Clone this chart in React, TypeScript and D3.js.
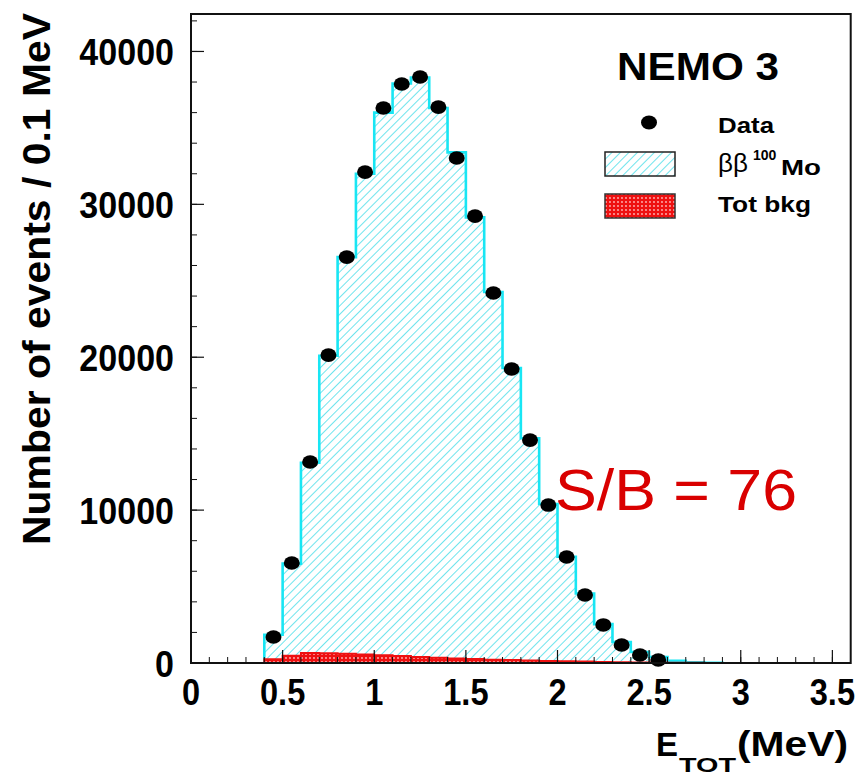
import React from 'react';
import * as d3 from 'd3';

// ---- data ----
const binCenters = [0.45, 0.55, 0.65, 0.75, 0.85, 0.95, 1.05, 1.15, 1.25, 1.35, 1.45, 1.55, 1.65, 1.75, 1.85, 1.95, 2.05, 2.15, 2.25, 2.35, 2.45, 2.55, 2.65, 2.75, 2.85];
const dataCounts = [1700, 6540, 13150, 20140, 26550, 32110, 36300, 37870, 38330, 36360, 33030, 29230, 24200, 19230, 14580, 10330, 6930, 4450, 2490, 1180, 520, 200];
const mcCounts = [1850, 6500, 13100, 20100, 26550, 32000, 36000, 37900, 38300, 36300, 33400, 29150, 24270, 19300, 14700, 10400, 6950, 4550, 2540, 1370, 720, 390, 150, 50, 15];
const bkgCounts = [250, 480, 650, 640, 600, 560, 500, 450, 400, 350, 300, 260, 220, 190, 160, 130, 110, 90, 70, 50, 40, 30, 20, 10, 5];
const binWidth = 0.1;
const xMajorTicks = [0, 0.5, 1, 1.5, 2, 2.5, 3, 3.5];
const xTickLabels = ['0', '0.5', '1', '1.5', '2', '2.5', '3', '3.5'];
const yMajorTicks = [0, 10000, 20000, 30000, 40000];
const yTickLabels = ['0', '10000', '20000', '30000', '40000'];
const xDomain = [0, 3.6];
const yDomain = [0, 42450];

const FONT = '"Liberation Sans", Arial, Helvetica, sans-serif';

export default function App() {
  const W = 856, H = 776;
  const left = 191, right = 850.7, top = 14, bottom = 663;
  const x = d3.scaleLinear().domain(xDomain).range([left, right]);
  const y = d3.scaleLinear().domain(yDomain).range([bottom, top]);

  const histPoints = (vals: number[]) => {
    const pts: [number, number][] = [];
    const lo0 = binCenters[0] - binWidth / 2;
    pts.push([x(lo0), y(0)]);
    vals.forEach((v, i) => {
      const lo = binCenters[i] - binWidth / 2;
      const hi = binCenters[i] + binWidth / 2;
      pts.push([x(lo), y(v)]);
      pts.push([x(hi), y(v)]);
    });
    const hiLast = binCenters[vals.length - 1] + binWidth / 2;
    pts.push([x(hiLast), y(0)]);
    return pts;
  };
  const line = d3.line<[number, number]>();
  const mcPath = line(histPoints(mcCounts)) || '';
  const bkgPath = line(histPoints(bkgCounts)) || '';

  const xMinor = d3.range(0, 36).map((i) => i * 0.1).filter((v) => v <= xDomain[1] + 1e-9);
  const yMinor = d3.range(0, 22).map((i) => i * 2000);

  const majLen = 13, minLen = 6;

  return (
    <svg width={W} height={H} style={{ position: 'absolute', left: 0, top: 0, background: '#fff' }} fontFamily={FONT}>
      <defs>
        <pattern id="hatch" patternUnits="userSpaceOnUse" width="6" height="6" patternTransform="rotate(45)">
          <line x1="0" y1="0" x2="0" y2="6" stroke="#30d9e6" strokeWidth="1.4" />
        </pattern>
        <pattern id="dots" patternUnits="userSpaceOnUse" width="4" height="4">
          <rect width="4" height="4" fill="#ee1111" />
          <circle cx="2" cy="2" r="0.9" fill="#ffbbbb" />
        </pattern>
      </defs>
      <rect x={0} y={0} width={W} height={H} fill="#fff" />

      {/* MC histogram */}
      <path d={mcPath} fill="url(#hatch)" stroke="none" />
      <path d={mcPath} fill="none" stroke="#18e6f4" strokeWidth={2.6} />
      {/* background */}
      <path d={bkgPath} fill="url(#dots)" stroke="#ee1111" strokeWidth={2} />

      {/* data points */}
      {dataCounts.map((v, i) => (
        <ellipse key={i} cx={x(binCenters[i])} cy={y(v)} rx={8} ry={6.8} fill="#000" />
      ))}

      {/* frame */}
      <rect x={left} y={top} width={right - left} height={bottom - top} fill="none" stroke="#111" strokeWidth={2} />

      {/* x ticks */}
      {xMinor.map((v, i) => (
        <line key={'xm' + i} x1={x(v)} x2={x(v)} y1={bottom} y2={bottom - minLen} stroke="#111" strokeWidth={1} />
      ))}
      {xMajorTicks.map((v, i) => (
        <line key={'xM' + i} x1={x(v)} x2={x(v)} y1={bottom} y2={bottom - majLen} stroke="#111" strokeWidth={1.2} />
      ))}
      {xMajorTicks.map((v, i) => (
        <text key={'xl' + i} transform={`translate(${x(v)},705) scale(0.88,1)`} textAnchor="middle" fontSize={37} fontWeight="bold" fill="#000">
          {xTickLabels[i]}
        </text>
      ))}

      {/* y ticks */}
      {yMinor.map((v, i) => (
        <line key={'ym' + i} x1={left} x2={left + minLen} y1={y(v)} y2={y(v)} stroke="#111" strokeWidth={1} />
      ))}
      {yMajorTicks.map((v, i) => (
        <line key={'yM' + i} x1={left} x2={left + majLen} y1={y(v)} y2={y(v)} stroke="#111" strokeWidth={1.2} />
      ))}
      {yMajorTicks.map((v, i) => (
        <text key={'yl' + i} transform={`translate(174,${y(v) + 13.5}) scale(0.92,1)`} textAnchor="end" fontSize={37} fontWeight="bold" fill="#000">
          {yTickLabels[i]}
        </text>
      ))}

      {/* axis titles */}
      <text transform="translate(50,279) rotate(-90)" textAnchor="middle" fontSize={39} fontWeight="bold" textLength={532} lengthAdjust="spacingAndGlyphs" fill="#000">
        Number of events / 0.1 MeV
      </text>
      <text x={656} y={756} fontSize={33} fontWeight="bold" fill="#000">E</text>
      <text x={679} y={772} fontSize={20} fontWeight="bold" textLength={57} lengthAdjust="spacingAndGlyphs" fill="#000">TOT</text>
      <text x={737} y={756} fontSize={35} fontWeight="bold" textLength={111} lengthAdjust="spacingAndGlyphs" fill="#000">
        (MeV)
      </text>

      {/* legend */}
      <text x={617} y={80} fontSize={39} fontWeight="bold" textLength={162} lengthAdjust="spacingAndGlyphs" fill="#000">NEMO 3</text>
      <ellipse cx={649} cy={122.5} rx={8} ry={7} fill="#000" />
      <text x={718} y={133} fontSize={22} fontWeight="bold" textLength={56} lengthAdjust="spacingAndGlyphs" fill="#000">Data</text>
      <rect x={605} y={152} width={70} height={24} fill="url(#hatch)" stroke="#222" strokeWidth={1.5} />
      <text x={718} y={172} fontSize={26} fill="#000">ββ</text>
      <text x={753} y={160} fontSize={14} fontWeight="bold" fill="#000">100</text>
      <text x={781} y={175} fontSize={22} fontWeight="bold" textLength={40} lengthAdjust="spacingAndGlyphs" fill="#000">Mo</text>
      <rect x={605} y={194} width={70} height={24} fill="url(#dots)" stroke="#333" strokeWidth={1.5} />
      <text x={718} y={212} fontSize={22} fontWeight="bold" textLength={93} lengthAdjust="spacingAndGlyphs" fill="#000">Tot bkg</text>

      {/* annotation */}
      <text x={555} y={510} fontSize={58} fill="#d90000" textLength={242} lengthAdjust="spacingAndGlyphs">S/B = 76</text>
    </svg>
  );
}
